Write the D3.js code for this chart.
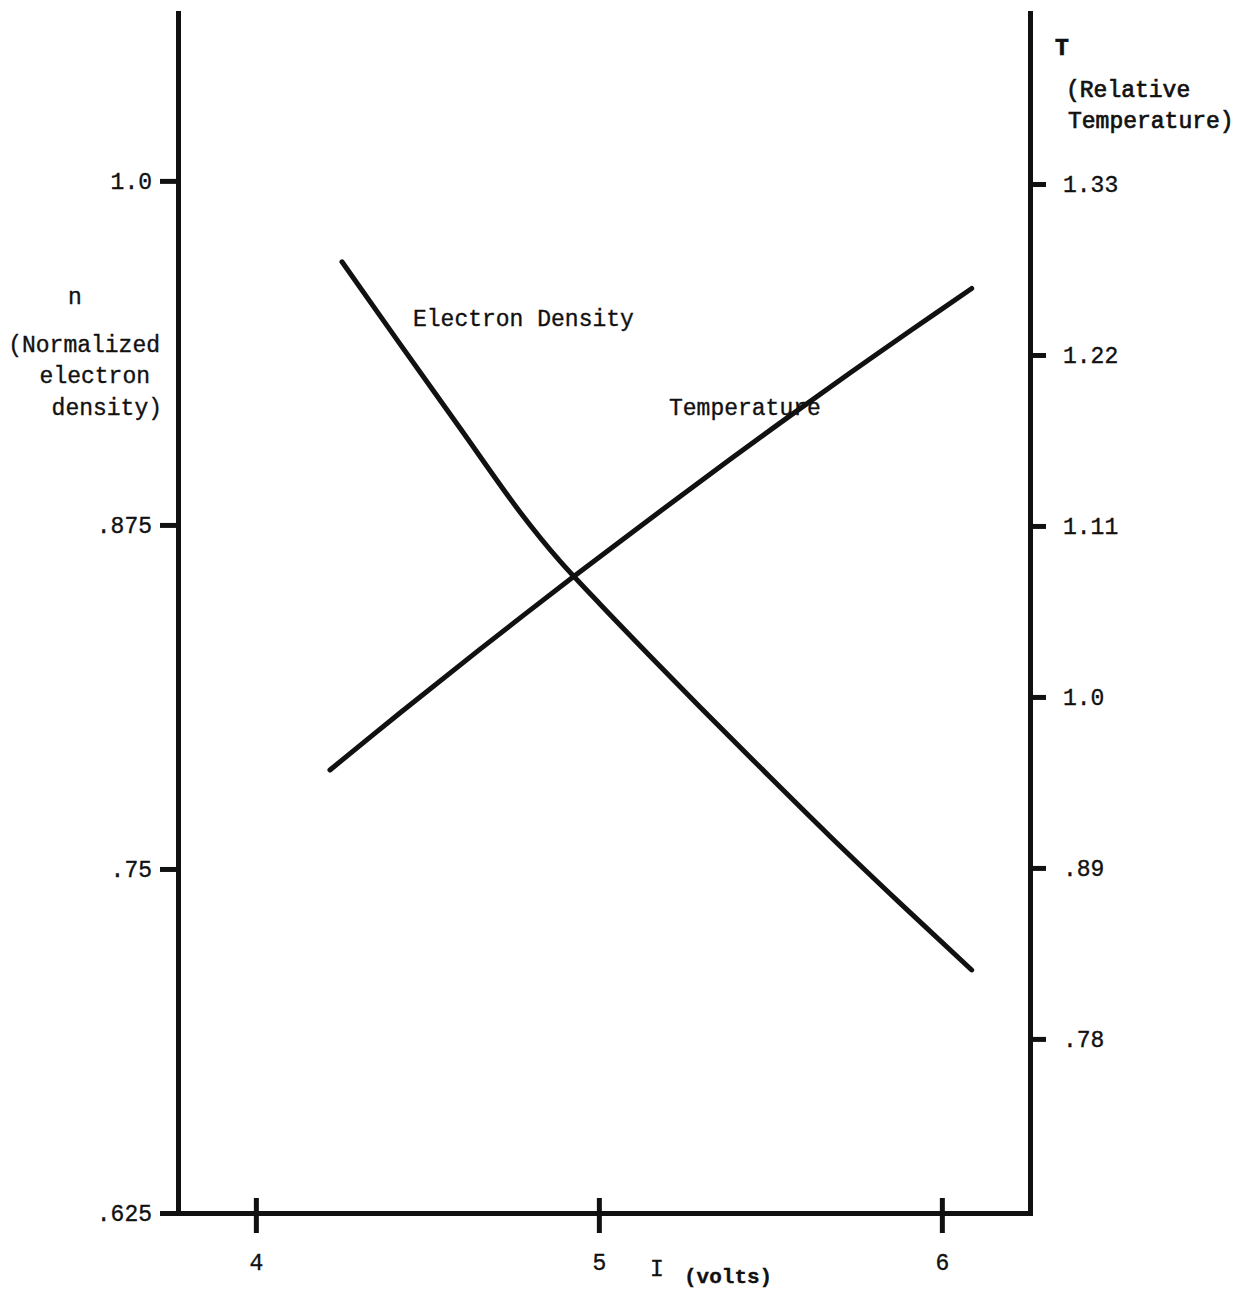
<!DOCTYPE html>
<html>
<head>
<meta charset="utf-8">
<script src="https://cdn.jsdelivr.net/npm/d3@7"></script>
<style>
  html, body { margin: 0; padding: 0; background: #fff; }
  svg { display: block; }
  text { font-family: "Liberation Mono", "DejaVu Sans Mono", monospace; fill: #111; stroke: #111; stroke-width: 0.35px; }
</style>
</head>
<body>
<svg id="chart" width="1251" height="1292"></svg>
<script>
// Probe voltage I (volts)
const voltTicks = [4, 5, 6];

// Left axis: normalized electron density n
const densityTicks = [0.625, 0.75, 0.875, 1.0];
const densityTickLabels = [".625", ".75", ".875", "1.0"];

// Right axis: relative temperature T
const tempTicks = [0.78, 0.89, 1.0, 1.11, 1.22, 1.33];
const tempTickLabels = [".78", ".89", "1.0", "1.11", "1.22", "1.33"];

// Electron density curve (I, n)
const densityI = [4.251, 4.420, 4.595, 4.770, 4.886, 5.003, 5.149, 5.294, 5.469, 5.673, 5.878, 6.087];
const densityN = [0.9706, 0.9408, 0.9102, 0.8797, 0.8619, 0.8463, 0.8274, 0.8089, 0.7871, 0.7620, 0.7376, 0.7133];

// Temperature curve (I, T)
const tempI = [4.216, 4.420, 4.653, 4.921, 5.149, 5.382, 5.557, 5.732, 5.907, 6.087];
const tempT = [0.9530, 0.9897, 1.0306, 1.0765, 1.1145, 1.1528, 1.1808, 1.2084, 1.2354, 1.2628];

const svg = d3.select("#chart");

const x = d3.scaleLinear().domain([3.773, 6.257]).range([178, 1030]);
const yN = d3.scaleLinear().domain([0.625, 1.061]).range([1213, 13]);
const yT = d3.scaleLinear().domain([0.668, 1.44]).range([1213, 13]);

const FONT = 23;

// Left axis
const gLeft = svg.append("g").attr("transform", `translate(${x.range()[0]},0)`)
  .call(d3.axisLeft(yN).tickValues(densityTicks)
    .tickFormat((d, i) => densityTickLabels[i])
    .tickSize(18).tickSizeOuter(0).tickPadding(8));

// Right axis
const gRight = svg.append("g").attr("transform", `translate(${x.range()[1]},0)`)
  .call(d3.axisRight(yT).tickValues(tempTicks)
    .tickFormat((d, i) => tempTickLabels[i])
    .tickSize(16).tickSizeOuter(0).tickPadding(17));

// Bottom axis (ticks cross the line)
const gBottom = svg.append("g").attr("transform", `translate(0,${yN.range()[0]})`)
  .call(d3.axisBottom(x).tickValues(voltTicks).tickFormat(d3.format("d"))
    .tickSize(20).tickSizeOuter(0).tickPadding(21));
gBottom.selectAll(".tick line").attr("y1", -15).attr("y2", 20);

[gLeft, gRight, gBottom].forEach(g => {
  g.select(".domain").attr("stroke", "#111").attr("stroke-width", 5).attr("stroke-linecap", "square");
  g.selectAll(".tick line").attr("stroke", "#111").attr("stroke-width", 5);
  g.selectAll(".tick text")
    .style("font-family", '"Liberation Mono", "DejaVu Sans Mono", monospace')
    .style("font-size", FONT + "px").attr("fill", "#111");
});

// Curves
const line = d3.line().curve(d3.curveCatmullRom.alpha(0.5));

svg.append("path")
  .attr("d", line(densityI.map((v, i) => [x(v), yN(densityN[i])])))
  .attr("fill", "none").attr("stroke", "#111").attr("stroke-width", 5)
  .attr("stroke-linecap", "round").attr("stroke-linejoin", "round");

svg.append("path")
  .attr("d", line(tempI.map((v, i) => [x(v), yT(tempT[i])])))
  .attr("fill", "none").attr("stroke", "#111").attr("stroke-width", 5)
  .attr("stroke-linecap", "round").attr("stroke-linejoin", "round");

// Curve labels
svg.append("text").attr("x", 413).attr("y", 326).style("font-size", FONT + "px").text("Electron Density");
svg.append("text").attr("x", 669).attr("y", 415).style("font-size", FONT + "px").text("Temperature");

// Left axis title
const leftTitle = [
  { t: "n", x: 75, y: 304, a: "middle" },
  { t: "(Normalized", x: 160, y: 352, a: "end" },
  { t: "electron", x: 150, y: 383, a: "end" },
  { t: "density)", x: 162, y: 415, a: "end" }
];
svg.selectAll(".ltitle").data(leftTitle).join("text")
  .attr("x", d => d.x).attr("y", d => d.y).attr("text-anchor", d => d.a)
  .style("font-size", FONT + "px").text(d => d.t);

// Right axis title
const rightTitle = [
  { t: "T", x: 1055, y: 55, w: "bold" },
  { t: "(Relative", x: 1066, y: 97, w: "normal" },
  { t: "Temperature)", x: 1068, y: 128, w: "normal" }
];
svg.selectAll(".rtitle").data(rightTitle).join("text")
  .attr("x", d => d.x).attr("y", d => d.y)
  .style("font-size", FONT + "px").style("font-weight", d => d.w)
  .style("stroke-width", "0.7px").text(d => d.t);

// Bottom axis title
svg.append("text").attr("x", 650).attr("y", 1276).style("font-size", FONT + "px").text("I");
svg.append("text").attr("x", 684).attr("y", 1283).style("font-size", "21px").style("font-weight", "bold").text("(volts)");
</script>
</body>
</html>
